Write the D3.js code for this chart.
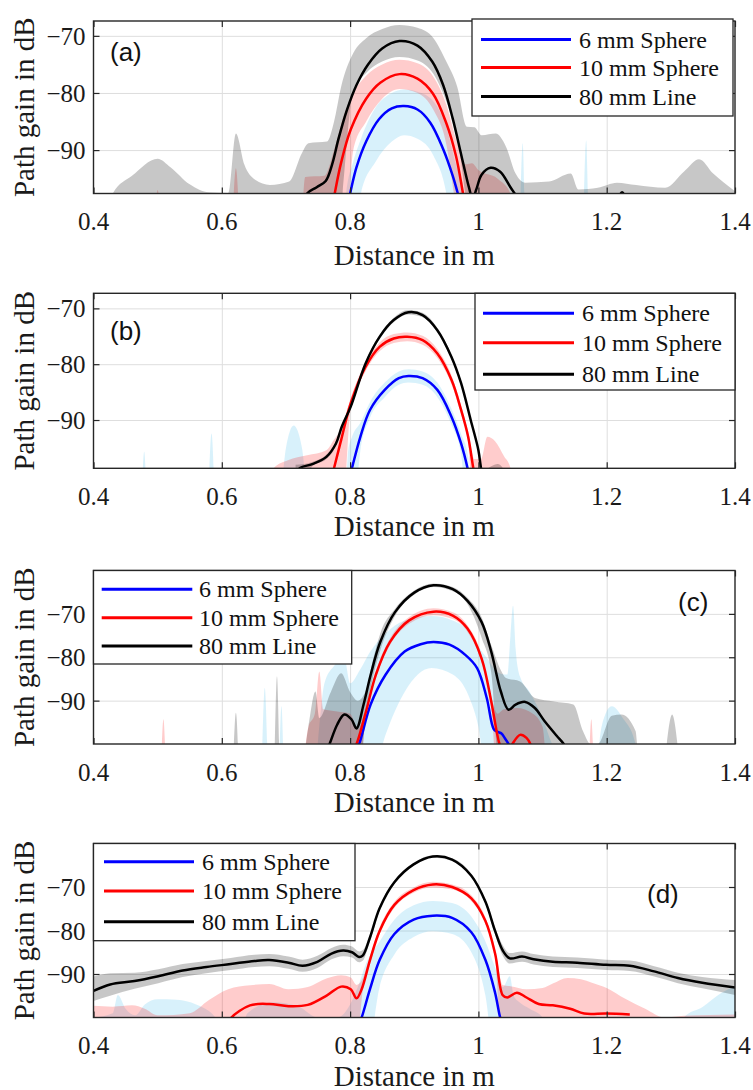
<!DOCTYPE html>
<html>
<head>
<meta charset="utf-8">
<script src="https://cdn.jsdelivr.net/npm/d3@7"></script>
<style>
  html, body { margin: 0; padding: 0; background: #fff; }
  svg { display: block; }
</style>
</head>
<body>
<svg id="fig" width="753" height="1090"></svg>
<script>
// ---------------- shared labels ----------------
const xTicks = [0.4, 0.6, 0.8, 1.0, 1.2, 1.4];
const xTickLabels = ["0.4", "0.6", "0.8", "1", "1.2", "1.4"];
const yTicks = [-90, -80, -70];
const seriesNames = ["6 mm Sphere", "10 mm Sphere", "80 mm Line"];
const panelTags = ["(a)", "(b)", "(c)", "(d)"];
const xTitle = "Distance in m";
const yTitle = "Path gain in dB";

// ---------------- panel (a) ----------------
// mean curves: [distance m, path gain dB]
const sphere6A = [[0.795,-100],[0.800,-97.6],[0.810,-93.0],[0.825,-88.5],[0.845,-84.6],[0.865,-82.7],[0.884,-82.3],[0.905,-82.9],[0.925,-85.2],[0.945,-89.8],[0.960,-94.5],[0.968,-97.6],[0.975,-100]];
const sphere10A = [[0.772,-100],[0.776,-97.6],[0.786,-92.2],[0.801,-86.4],[0.825,-81.0],[0.847,-78.2],[0.877,-76.7],[0.905,-77.5],[0.929,-80.1],[0.950,-85.3],[0.965,-91.0],[0.976,-97.6],[0.980,-100]];
const line80A = [[0.728,-100],[0.733,-97.6],[0.748,-96.5],[0.762,-95.4],[0.772,-92.5],[0.782,-88.0],[0.795,-83.0],[0.810,-78.6],[0.828,-75.0],[0.850,-72.2],[0.877,-70.9],[0.905,-71.7],[0.928,-74.5],[0.945,-78.6],[0.960,-84.5],[0.974,-91.2],[0.985,-96.4],[0.991,-98.5],[0.997,-96.8],[1.005,-94.3],[1.019,-93.1],[1.034,-93.8],[1.050,-96.5],[1.063,-98.5],[1.080,-100],null,[1.214,-99.5],[1.224,-97.4],[1.234,-99.5]];
// spread bands: [distance m, lower dB, upper dB]
const sphere6BandA = [[0.40,-110,-110],[0.790,-110,-110],[0.794,-110,-97.6],[0.805,-110,-92.0],[0.817,-97.6,-88.0],[0.840,-92.0,-82.5],[0.865,-88.5,-80.0],[0.884,-87.4,-79.4],[0.905,-88.0,-79.8],[0.930,-91.0,-81.5],[0.950,-97.6,-86.0],[0.965,-110,-92.5],[0.978,-110,-97.6],[0.985,-110,-110],[1.062,-110,-110],[1.069,-110,-88.8],[1.075,-110,-110],[1.161,-110,-110],[1.168,-110,-88.3],[1.174,-110,-110],[1.40,-110,-110]];
const sphere10BandA = [[0.40,-110,-110],[0.490,-110,-110],[0.500,-110,-97.0],[0.510,-110,-110],[0.612,-110,-110],[0.622,-110,-93.2],[0.632,-110,-110],[0.720,-110,-110],[0.730,-110,-94.7],[0.760,-110,-94.5],[0.775,-110,-90.0],[0.790,-110,-84.0],[0.805,-90.0,-80.0],[0.825,-85.0,-77.0],[0.850,-81.0,-75.0],[0.877,-79.3,-74.2],[0.905,-80.0,-74.8],[0.930,-83.0,-77.2],[0.950,-89.0,-82.0],[0.965,-100,-88.0],[0.980,-110,-92.5],[0.990,-110,-92.3],[1.000,-110,-93.5],[1.030,-110,-95.0],[1.050,-110,-97.6],[1.060,-110,-110],[1.40,-110,-110]];
const line80BandA = [[0.40,-110,-110],[0.430,-110,-97.6],[0.460,-110,-94.5],[0.500,-110,-91.5],[0.520,-110,-93.0],[0.550,-110,-96.0],[0.580,-110,-97.4],[0.610,-110,-97.5],[0.622,-110,-87.1],[0.635,-110,-92.5],[0.652,-110,-95.2],[0.675,-110,-96.1],[0.705,-110,-95.5],[0.725,-110,-90.5],[0.735,-110,-88.8],[0.764,-110,-88.5],[0.775,-110,-85.0],[0.786,-100,-78.9],[0.805,-79.5,-73.0],[0.825,-76.5,-70.4],[0.850,-74.5,-68.8],[0.877,-73.7,-68.1],[0.905,-74.3,-68.6],[0.930,-76.7,-70.4],[0.950,-81.5,-74.5],[0.967,-87.5,-78.9],[0.982,-100,-85.9],[0.994,-110,-86.0],[1.005,-110,-87.4],[1.027,-110,-87.1],[1.043,-110,-89.4],[1.058,-110,-94.1],[1.073,-110,-95.7],[1.110,-110,-95.5],[1.144,-110,-94.1],[1.156,-110,-96.9],[1.186,-110,-96.6],[1.216,-110,-95.7],[1.246,-110,-96.1],[1.291,-110,-96.6],[1.321,-110,-93.7],[1.344,-110,-91.6],[1.366,-110,-94.1],[1.40,-110,-97.2]];

// ---------------- panel (b) ----------------
const sphere6B = [[0.798,-101],[0.803,-98.6],[0.816,-93.0],[0.831,-88.2],[0.854,-84.6],[0.876,-82.5],[0.891,-82.1],[0.913,-82.5],[0.936,-84.6],[0.958,-89.4],[0.973,-94.2],[0.983,-98.6],[0.987,-101]];
const sphere10B = [[0.770,-101],[0.775,-98.6],[0.786,-93.6],[0.801,-87.0],[0.824,-80.5],[0.846,-76.9],[0.868,-75.4],[0.889,-75.1],[0.913,-75.7],[0.936,-78.1],[0.958,-82.8],[0.973,-88.2],[0.984,-93.0],[0.992,-98.6],[0.996,-101]];
const line80B = [[0.715,-100],[0.722,-98.6],[0.741,-97.9],[0.763,-96.6],[0.778,-94.2],[0.787,-91.2],[0.801,-87.6],[0.824,-79.9],[0.846,-75.1],[0.868,-72.1],[0.891,-70.7],[0.913,-71.2],[0.936,-73.9],[0.958,-78.7],[0.973,-83.4],[0.988,-90.0],[1.000,-95.4],[1.004,-98.6],[1.008,-101]];
const sphere6BandB = [[0.40,-110,-110],[0.472,-110,-110],[0.479,-110,-95.7],[0.486,-110,-110],[0.576,-110,-110],[0.584,-110,-92.4],[0.592,-110,-110],[0.685,-110,-110],[0.700,-110,-95.0],[0.712,-110,-91.0],[0.725,-110,-95.0],[0.740,-110,-110],[0.790,-110,-110],[0.797,-110,-95.5],[0.803,-110,-93.0],[0.816,-95.5,-90.5],[0.831,-89.6,-86.8],[0.854,-85.9,-83.3],[0.876,-83.7,-81.3],[0.891,-83.3,-80.9],[0.913,-83.7,-81.3],[0.936,-85.9,-83.3],[0.958,-90.8,-88.0],[0.973,-96.0,-92.5],[0.984,-110,-96.5],[0.990,-110,-110],[1.390,-110,-110],[1.40,-110,-96.0]];
const sphere10BandB = [[0.40,-110,-110],[0.675,-110,-110],[0.681,-110,-98.6],[0.703,-110,-97.2],[0.733,-110,-96.3],[0.763,-110,-95.4],[0.775,-110,-93.5],[0.786,-110,-91.5],[0.801,-88.0,-86.0],[0.824,-81.3,-79.7],[0.846,-77.7,-76.1],[0.868,-76.2,-74.6],[0.889,-75.9,-74.3],[0.913,-76.5,-74.9],[0.936,-78.9,-77.3],[0.958,-83.6,-82.0],[0.973,-89.0,-87.4],[0.984,-94.0,-92.0],[0.994,-110,-97.0],[1.004,-110,-97.0],[1.014,-110,-93.0],[1.026,-110,-93.8],[1.040,-110,-96.5],[1.050,-110,-98.6],[1.060,-110,-110],[1.40,-110,-110]];
const line80BandB = [[0.715,-110,-98.0],[0.741,-98.3,-97.5],[0.763,-97.0,-96.2],[0.778,-94.6,-93.8],[0.787,-91.6,-90.8],[0.801,-88.0,-87.2],[0.824,-80.3,-79.5],[0.846,-75.5,-74.7],[0.868,-72.5,-71.7],[0.891,-71.1,-70.3],[0.913,-71.6,-70.8],[0.936,-74.3,-73.5],[0.958,-79.1,-78.3],[0.973,-83.8,-83.0],[0.988,-90.4,-89.6],[1.000,-95.8,-95.0],[1.008,-110,-99.0],[1.020,-110,-98.3],[1.030,-110,-97.9],[1.040,-110,-99.0],[1.05,-110,-110]];

// ---------------- panel (c) ----------------
const sphere6C = [[0.810,-101],[0.814,-100],[0.832,-90.9],[0.855,-84.1],[0.885,-78.7],[0.910,-77.0],[0.930,-76.5],[0.955,-77.1],[0.980,-79.5],[0.998,-82.5],[1.013,-89.4],[1.024,-96.6],[1.030,-97.2],[1.036,-97.6],[1.041,-98.6],[1.047,-100],[1.050,-101]];
const sphere10C = [[0.806,-101],[0.810,-100],[0.825,-92.4],[0.840,-84.1],[0.862,-76.5],[0.892,-71.5],[0.930,-69.5],[0.960,-70.4],[0.983,-73.4],[1.005,-80.3],[1.020,-90.2],[1.029,-97.5],[1.033,-100],[1.043,-103],[1.053,-100],[1.065,-97.9],[1.075,-98.6],[1.081,-100],[1.085,-102]];
const line80C = [[0.765,-101],[0.768,-100],[0.780,-95.5],[0.791,-93.2],[0.802,-94.3],[0.810,-96.4],[0.821,-90.9],[0.832,-84.1],[0.847,-76.5],[0.870,-69.6],[0.900,-65.1],[0.930,-63.4],[0.960,-64.3],[0.983,-67.0],[1.005,-71.9],[1.020,-78.7],[1.035,-87.9],[1.047,-92.1],[1.058,-90.9],[1.073,-90.3],[1.088,-91.7],[1.103,-94.7],[1.122,-98.1],[1.133,-100],[1.136,-101]];
const sphere6BandC = [[0.40,-110,-110],[0.660,-110,-110],[0.667,-110,-87.1],[0.674,-110,-110],[0.688,-110,-110],[0.693,-110,-91.3],[0.698,-110,-110],[0.740,-110,-110],[0.760,-110,-86.0],[0.775,-110,-82.0],[0.791,-110,-80.3],[0.800,-110,-86.0],[0.815,-110,-83.0],[0.830,-110,-79.0],[0.855,-98.0,-74.5],[0.885,-88.0,-71.5],[0.927,-82.5,-70.5],[0.960,-84.0,-71.5],[0.985,-89.0,-74.0],[1.000,-96.0,-77.5],[1.015,-110,-80.5],[1.030,-110,-83.5],[1.045,-110,-84.0],[1.050,-110,-75.0],[1.054,-110,-68.1],[1.058,-110,-78.0],[1.065,-110,-84.5],[1.080,-110,-88.0],[1.100,-110,-94.0],[1.115,-110,-100],[1.180,-110,-110],[1.192,-110,-96.0],[1.208,-110,-91.3],[1.225,-110,-94.0],[1.245,-110,-100],[1.250,-110,-110],[1.40,-110,-110]];
const sphere10BandC = [[0.40,-110,-110],[0.503,-110,-110],[0.509,-110,-94.3],[0.515,-110,-110],[0.720,-110,-110],[0.735,-110,-96.0],[0.745,-110,-93.0],[0.752,-110,-83.3],[0.758,-110,-92.0],[0.780,-110,-92.5],[0.800,-110,-93.0],[0.812,-110,-96.5],[0.825,-93.2,-91.6],[0.840,-84.9,-83.3],[0.862,-77.3,-75.7],[0.892,-72.3,-70.7],[0.930,-70.3,-68.7],[0.960,-71.2,-69.6],[0.983,-74.2,-72.6],[1.005,-81.2,-79.4],[1.020,-91.0,-89.0],[1.030,-110,-93.0],[1.040,-110,-92.0],[1.060,-110,-91.7],[1.085,-110,-93.0],[1.100,-110,-96.0],[1.110,-110,-110],[1.170,-110,-110],[1.176,-110,-94.3],[1.182,-110,-110],[1.40,-110,-110]];
const line80BandC = [[0.40,-110,-110],[0.615,-110,-110],[0.622,-110,-92.8],[0.629,-110,-110],[0.680,-110,-110],[0.686,-110,-84.4],[0.692,-110,-110],[0.720,-110,-110],[0.735,-110,-96.0],[0.746,-110,-87.9],[0.752,-110,-94.0],[0.770,-110,-88.0],[0.786,-110,-83.7],[0.800,-110,-88.0],[0.812,-110,-90.0],[0.825,-93.0,-87.5],[0.835,-85.0,-81.0],[0.847,-78.5,-74.5],[0.870,-70.5,-68.8],[0.900,-65.6,-64.6],[0.930,-63.8,-63.0],[0.960,-64.8,-63.8],[0.983,-67.8,-66.3],[1.005,-75.5,-70.8],[1.020,-83.5,-77.2],[1.035,-110,-83.0],[1.043,-110,-84.8],[1.065,-110,-85.6],[1.088,-110,-89.4],[1.118,-110,-90.2],[1.148,-110,-90.9],[1.163,-110,-97.0],[1.175,-110,-100],[1.186,-110,-100],[1.208,-110,-93.5],[1.223,-110,-93.2],[1.245,-110,-97.0],[1.253,-110,-110],[1.283,-110,-110],[1.302,-110,-93.2],[1.321,-110,-110],[1.40,-110,-110]];

// ---------------- panel (d) ----------------
const sphere6D = [[0.815,-101],[0.818,-100],[0.831,-93.5],[0.846,-86.8],[0.869,-80.8],[0.899,-77.5],[0.929,-76.6],[0.959,-77.1],[0.989,-80.4],[1.011,-86.8],[1.026,-94.3],[1.034,-100],[1.037,-101]];
const sphere10D = [[0.612,-101],[0.615,-100],[0.644,-97.2],[0.674,-96.9],[0.704,-97.4],[0.734,-97.1],[0.764,-94.9],[0.786,-92.9],[0.801,-93.5],[0.810,-95.6],[0.818,-93.5],[0.831,-86.8],[0.846,-80.1],[0.869,-74.1],[0.899,-70.7],[0.929,-69.4],[0.959,-70.0],[0.989,-72.6],[1.011,-77.8],[1.026,-85.3],[1.038,-94.9],[1.045,-95.4],[1.060,-94.3],[1.075,-95.4],[1.094,-96.9],[1.116,-97.2],[1.143,-98.0],[1.165,-99.1],[1.199,-99.1],[1.236,-99.3]];
const line80D = [[0.400,-93.9],[0.426,-92.4],[0.464,-91.6],[0.501,-90.5],[0.539,-89.2],[0.576,-88.4],[0.614,-87.7],[0.651,-87.0],[0.674,-86.8],[0.704,-87.4],[0.726,-88.1],[0.749,-87.2],[0.771,-85.3],[0.789,-84.6],[0.803,-85.0],[0.814,-86.1],[0.820,-85.7],[0.831,-81.6],[0.846,-74.9],[0.869,-68.9],[0.899,-64.8],[0.929,-63.0],[0.959,-63.7],[0.989,-67.4],[1.011,-73.4],[1.026,-80.1],[1.038,-84.6],[1.049,-86.4],[1.068,-86.0],[1.086,-86.6],[1.116,-87.2],[1.154,-87.4],[1.199,-87.9],[1.236,-88.1],[1.274,-89.4],[1.311,-90.9],[1.349,-92.0],[1.400,-93.1]];
const sphere6BandD = [[0.40,-110,-100],[0.430,-110,-99.0],[0.438,-110,-94.8],[0.450,-110,-98.0],[0.465,-110,-99.5],[0.480,-110,-97.0],[0.500,-110,-95.8],[0.530,-110,-95.9],[0.560,-110,-97.0],[0.590,-110,-100],[0.620,-110,-110],[0.640,-110,-99.0],[0.680,-110,-96.5],[0.720,-110,-97.5],[0.750,-110,-100],[0.780,-110,-100],[0.800,-110,-97.0],[0.812,-110,-93.0],[0.825,-110,-87.5],[0.846,-93.0,-82.5],[0.869,-85.5,-77.5],[0.899,-81.5,-74.2],[0.929,-80.2,-73.2],[0.959,-80.8,-73.7],[0.989,-85.0,-76.8],[1.011,-95.0,-82.5],[1.026,-110,-88.5],[1.038,-110,-93.0],[1.049,-110,-90.5],[1.055,-110,-95.0],[1.064,-110,-96.5],[1.080,-110,-98.0],[1.100,-110,-100],[1.120,-110,-110],[1.300,-110,-110],[1.320,-110,-100],[1.350,-110,-97.5],[1.379,-110,-94.3],[1.40,-110,-92.8]];
const sphere10BandD = [[0.40,-110,-97.3],[0.430,-110,-97.5],[0.460,-110,-97.2],[0.480,-110,-98.0],[0.500,-110,-99.5],[0.550,-110,-99.0],[0.580,-110,-96.0],[0.610,-110,-93.5],[0.644,-110,-92.6],[0.674,-110,-92.3],[0.704,-110,-93.5],[0.734,-110,-93.0],[0.764,-110,-91.0],[0.786,-110,-90.3],[0.801,-110,-90.8],[0.810,-110,-92.5],[0.818,-96.0,-91.5],[0.831,-87.8,-85.8],[0.846,-80.9,-79.3],[0.869,-74.8,-73.4],[0.899,-71.3,-70.1],[0.929,-70.1,-68.8],[0.959,-70.6,-69.4],[0.989,-73.3,-71.9],[1.011,-78.6,-77.0],[1.026,-86.3,-84.3],[1.038,-110,-92.5],[1.050,-110,-92.8],[1.075,-110,-93.5],[1.100,-110,-93.2],[1.116,-110,-92.2],[1.139,-110,-90.9],[1.160,-110,-91.2],[1.177,-110,-92.0],[1.200,-110,-93.2],[1.229,-110,-95.7],[1.260,-110,-98.0],[1.290,-110,-100],[1.320,-110,-99.6],[1.360,-110,-99.4],[1.40,-110,-99.3]];
const line80BandD = [[0.400,-96.2,-90.6],[0.426,-95.0,-89.8],[0.464,-93.4,-89.7],[0.501,-92.1,-88.9],[0.539,-90.7,-87.7],[0.576,-89.8,-87.0],[0.614,-89.1,-86.3],[0.651,-88.4,-85.6],[0.674,-88.2,-85.4],[0.704,-88.8,-86.0],[0.726,-89.5,-86.7],[0.749,-88.6,-85.8],[0.771,-86.6,-84.0],[0.789,-85.9,-83.3],[0.803,-86.2,-83.7],[0.814,-87.3,-84.8],[0.820,-86.9,-84.5],[0.831,-82.4,-80.8],[0.846,-75.5,-74.3],[0.869,-69.3,-68.5],[0.899,-65.1,-64.5],[0.929,-63.3,-62.7],[0.959,-64.0,-63.4],[0.989,-67.8,-67.0],[1.011,-73.9,-72.9],[1.026,-80.9,-79.3],[1.038,-85.8,-83.4],[1.049,-87.6,-85.2],[1.068,-87.2,-84.8],[1.086,-87.8,-85.4],[1.116,-88.4,-86.0],[1.154,-88.6,-86.2],[1.199,-89.1,-86.7],[1.236,-89.3,-86.9],[1.274,-90.6,-88.2],[1.311,-92.1,-89.7],[1.349,-93.3,-90.7],[1.400,-94.8,-91.4]];

// ---------------- layout & styling ----------------
const seriesColors = ["#0000ff", "#ff0000", "#000000"];
const bandFills = [
  { fill: "rgb(77,190,238)", opacity: 0.22 },
  { fill: "#ff0000", opacity: 0.2 },
  { fill: "#000000", opacity: 0.22 }
];
const SERIF = '"Liberation Serif"';
const SANS = '"Liberation Sans"';
const BASE_SIZE = 28;           // glyphs are laid out at this size and scaled down
const axisColor = "#262626";
const gridColor = "#dedede";

const X0 = 93.5, X1 = 735;
const x = d3.scaleLinear().domain([0.4, 1.4]).range([X0, X1]);

const panels = [
  { top: 21, bottom: 193.5, ylim: [-97.6, -67.4],
    lines: [sphere6A, sphere10A, line80A], bands: [sphere6BandA, sphere10BandA, line80BandA],
    legend: { x0: 472, y0: 19, x1: 733, y1: 116, l0: 481, l1: 571, tx: 579, rows: [39.5, 67.5, 96.5] },
    tag: { x: 110, y: 61 }, titleDy: 71 },
  { top: 293.3, bottom: 468.3, ylim: [-98.65, -67.3],
    lines: [sphere6B, sphere10B, line80B], bands: [sphere6BandB, sphere10BandB, line80BandB],
    legend: { x0: 475, y0: 293.3, x1: 735, y1: 390, l0: 483, l1: 574, tx: 582, rows: [313.3, 342.7, 374.3] },
    tag: { x: 110, y: 339.5 }, titleDy: 68 },
  { top: 570.5, bottom: 744, ylim: [-100, -60],
    lines: [sphere6C, sphere10C, line80C], bands: [sphere6BandC, sphere10BandC, line80BandC],
    legend: { x0: 93.5, y0: 570.5, x1: 351.7, y1: 664, l0: 101.7, l1: 192.3, tx: 199, rows: [589.3, 617.7, 646] },
    tag: { x: 678, y: 611 }, titleDy: 68 },
  { top: 843.5, bottom: 1017.5, ylim: [-100, -60],
    lines: [sphere6D, sphere10D, line80D], bands: [sphere6BandD, sphere10BandD, line80BandD],
    legend: { x0: 93.5, y0: 843.5, x1: 355, y1: 940.7, l0: 104, l1: 194, tx: 202, rows: [861.7, 891, 921.7] },
    tag: { x: 647, y: 902.5 }, titleDy: 68 }
];

const svg = d3.select("#fig");
svg.append("rect").attr("width", 753).attr("height", 1090).attr("fill", "#fff");
const defs = svg.append("defs");

// text placed at (px, py), rendered at BASE_SIZE and scaled to the wanted size
function label(parent, px, py, str, size, opts = {}) {
  const s = size / BASE_SIZE;
  const rot = opts.rotate ? ` rotate(${opts.rotate})` : "";
  return parent.append("text")
    .attr("transform", `translate(${px},${py})${rot} scale(${s})`)
    .attr("text-anchor", opts.anchor || "start")
    .attr("font-size", BASE_SIZE)
    .attr("fill", opts.fill || "#1a1a1a")
    .style("font-family", opts.family || SERIF)
    .text(str);
}

panels.forEach((p, i) => {
  const y = d3.scaleLinear().domain(p.ylim).range([p.bottom, p.top]);
  const h = p.bottom - p.top;
  const g = svg.append("g").attr("class", "panel");

  const clipId = "plot-clip-" + i;
  defs.append("clipPath").attr("id", clipId)
    .append("rect").attr("x", X0).attr("y", p.top).attr("width", X1 - X0).attr("height", h);

  // grid
  const gridX = g.append("g").attr("transform", `translate(0,${p.bottom})`)
    .call(d3.axisBottom(x).tickValues(xTicks.slice(1, -1)).tickSize(-h).tickFormat(""));
  const gridY = g.append("g").attr("transform", `translate(${X0},0)`)
    .call(d3.axisLeft(y).tickValues(yTicks).tickSize(-(X1 - X0)).tickFormat(""));
  [gridX, gridY].forEach(gr => {
    gr.select(".domain").remove();
    gr.selectAll("line").attr("stroke", gridColor).attr("stroke-width", 1);
  });

  const plot = g.append("g").attr("clip-path", `url(#${clipId})`);

  // spread bands
  const area = d3.area()
    .x(d => x(d[0]))
    .y0(d => y(d[1]))
    .y1(d => y(d[2]))
    .curve(d3.curveMonotoneX);
  p.bands.forEach((b, k) => {
    plot.append("path").datum(b)
      .attr("d", area)
      .attr("fill", bandFills[k].fill)
      .attr("fill-opacity", bandFills[k].opacity)
      .attr("stroke", "none");
  });

  // mean curves
  const line = d3.line()
    .defined(d => d !== null)
    .x(d => x(d[0]))
    .y(d => y(d[1]))
    .curve(d3.curveCatmullRom.alpha(0.5));
  p.lines.forEach((l, k) => {
    plot.append("path").datum(l)
      .attr("d", line)
      .attr("fill", "none")
      .attr("stroke", seriesColors[k])
      .attr("stroke-width", 2.5)
      .attr("stroke-linejoin", "round");
  });

  // inward tick marks on all four sides
  const axB = g.append("g").attr("transform", `translate(0,${p.bottom})`)
    .call(d3.axisBottom(x).tickValues(xTicks).tickSize(-6).tickFormat(""));
  const axT = g.append("g").attr("transform", `translate(0,${p.top})`)
    .call(d3.axisTop(x).tickValues(xTicks).tickSize(-6).tickFormat(""));
  const axL = g.append("g").attr("transform", `translate(${X0},0)`)
    .call(d3.axisLeft(y).tickValues(yTicks).tickSize(-6).tickFormat(""));
  const axR = g.append("g").attr("transform", `translate(${X1},0)`)
    .call(d3.axisRight(y).tickValues(yTicks).tickSize(-6).tickFormat(""));
  [axB, axT, axL, axR].forEach(ax => {
    ax.select(".domain").remove();
    ax.selectAll("text").remove();
    ax.selectAll("line").attr("stroke", axisColor).attr("stroke-width", 1.2);
  });

  // tick labels from the same scales
  xTicks.forEach((t, j) => label(g, x(t), p.bottom + 36.5, xTickLabels[j], 25, { anchor: "middle" }));
  yTicks.forEach(t => label(g, X0 - 8, y(t) + 9, d3.format("d")(t), 25, { anchor: "end" }));

  g.append("rect")
    .attr("x", X0).attr("y", p.top).attr("width", X1 - X0).attr("height", h)
    .attr("fill", "none").attr("stroke", axisColor).attr("stroke-width", 1.4);

  // axis titles
  label(g, (X0 + X1) / 2, p.bottom + p.titleDy, xTitle, 29, { anchor: "middle" });
  label(g, 34, (p.top + p.bottom) / 2, yTitle, 29, { anchor: "middle", rotate: -90 });

  // panel tag
  label(g, p.tag.x, p.tag.y, panelTags[i], 26, { family: SANS, fill: "#111" });

  // legend
  const L = p.legend;
  g.append("rect")
    .attr("x", L.x0).attr("y", L.y0).attr("width", L.x1 - L.x0).attr("height", L.y1 - L.y0)
    .attr("fill", "#fff").attr("stroke", axisColor).attr("stroke-width", 1.3);
  seriesNames.forEach((name, k) => {
    g.append("line")
      .attr("x1", L.l0).attr("x2", L.l1).attr("y1", L.rows[k]).attr("y2", L.rows[k])
      .attr("stroke", seriesColors[k]).attr("stroke-width", 3);
    label(g, L.tx, L.rows[k] + 8, name, 24, { fill: "#111" });
  });
});
</script>
</body>
</html>
